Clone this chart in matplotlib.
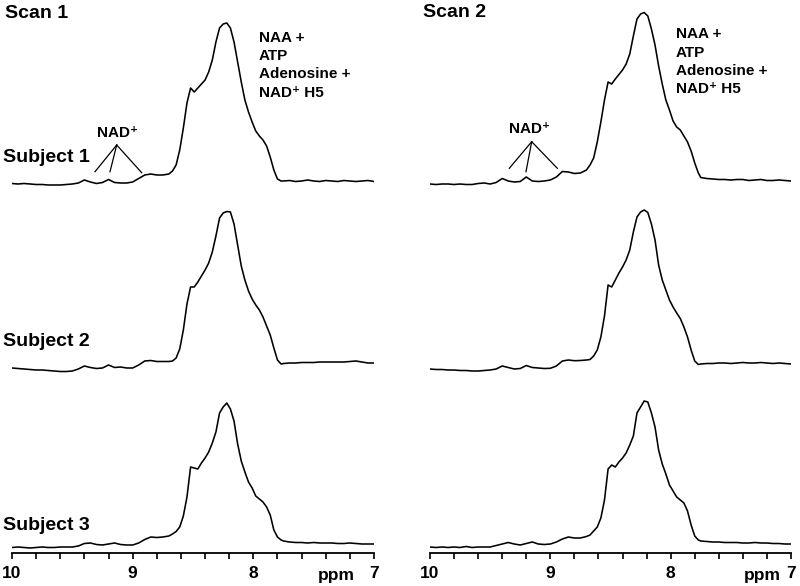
import matplotlib
matplotlib.use("Agg")
import matplotlib.pyplot as plt
from matplotlib.lines import Line2D

plt.rcParams['font.family'] = ['Liberation Sans', 'DejaVu Sans']

# ---------------- data ----------------
PPM = [10.00, 9.95, 9.90, 9.85, 9.80, 9.75, 9.70, 9.65, 9.60, 9.55, 9.50, 9.45, 9.40,
       9.35, 9.30, 9.25, 9.20, 9.15, 9.10, 9.05, 9.00, 8.95, 8.90, 8.85, 8.80, 8.75, 8.70,
       8.67, 8.64, 8.61, 8.58, 8.55, 8.52, 8.49, 8.46, 8.43, 8.40, 8.37, 8.34, 8.31, 8.28,
       8.25, 8.22, 8.19, 8.16, 8.13, 8.10, 8.07, 8.04, 8.01, 7.98, 7.95, 7.92, 7.89, 7.86,
       7.83, 7.80, 7.77,
       7.75, 7.70, 7.65, 7.60, 7.55, 7.50, 7.45, 7.40, 7.35, 7.30, 7.25, 7.20, 7.15, 7.10,
       7.05, 7.00]

scan1_subject1 = [2.5, 2, 2.5, 2, 1.5, 1.5, 1, 1, 1, 1.5, 2, 3, 6, 4, 2.5, 3.5, 6.5, 3.5, 3, 3,
                  4, 7.5, 11, 12, 11, 11, 12,
                  15, 21, 36, 58, 83, 98, 94, 98, 102, 106, 114, 126, 144, 158, 162, 163, 158,
                  144, 124, 104, 86, 74, 64, 55, 50, 46, 40, 29, 16, 7, 5,
                  5, 5.5, 4.5, 5, 6, 5, 4.5, 5.5, 5, 4.5, 5.5, 5, 4.5, 5, 5.5, 4.5]
scan1_subject2 = [4, 3.5, 3, 2.5, 2, 2, 1.5, 1, 0.5, 0.5, 1, 3, 6, 4.5, 3.5, 4, 7, 4.5, 5, 4,
                  4, 7, 11, 11.5, 10.5, 10.5, 10.5,
                  11, 14, 23, 42, 68, 85, 85, 90, 96, 102, 109, 120, 136, 154, 159, 160.5, 160,
                  148, 127, 106, 92, 81, 73, 67, 62, 55, 46, 37, 24, 12, 8,
                  8.5, 9, 9, 9.5, 9.5, 9.5, 10, 10, 10, 10, 10, 10.5, 11, 10, 9, 9]
scan1_subject3 = [1.5, 2, 1.5, 1, 1.5, 2, 1.5, 1.5, 2, 2, 2, 3, 5.5, 6, 4.5, 4, 5, 6, 4.5, 4,
                  4, 6, 9.5, 12, 11.5, 12, 13,
                  15, 17.5, 22, 33, 52, 82, 81, 80, 86, 91, 97, 106, 117, 136, 142, 146, 140,
                  128, 105, 88, 77, 67, 61, 53, 50, 47, 42, 34, 19, 12, 9,
                  8, 7, 6.5, 6.5, 6, 6.5, 6, 6, 6, 5.5, 5.5, 6, 5.5, 5, 5, 5]
scan2_subject1 = [2, 1.5, 2, 2, 1.5, 2, 1.5, 1.5, 2.5, 3, 2, 3.5, 7.5, 5, 4, 4.5, 9, 5, 4.5, 5,
                  6, 9, 14.5, 14, 12.5, 13, 16,
                  21, 28, 44, 64, 86, 104, 102, 107, 111.5, 116, 122, 132, 150, 167, 172, 173.5,
                  170, 157, 141, 120, 102, 86, 76, 65, 59, 56, 50, 44, 35, 23, 13,
                  8.5, 7.5, 7, 6.5, 6.5, 6, 6.5, 6.5, 5.5, 6, 6.5, 5.5, 5.5, 6, 5.5, 5]
scan2_subject2 = [3, 2.5, 2.5, 2, 2, 1.5, 1.5, 1, 1, 1.5, 2, 3, 6, 4.5, 3, 3.5, 6.5, 4.5, 4, 3.5,
                  3.7, 6, 11, 12, 11.3, 11.5, 12,
                  12.5, 16, 22, 35, 56, 87, 85, 92, 99, 105, 112, 122, 140, 155, 160, 162, 159.5,
                  148, 132, 107, 92, 82, 72, 65, 59, 53.5, 45, 35, 22, 11, 7.5,
                  8, 8.5, 8.5, 9, 9, 8.5, 9, 9.5, 9, 9, 9.5, 9, 8.5, 9, 8.5, 8]
scan2_subject3 = [2, 1.5, 2, 1.5, 2, 1.5, 2.5, 1.5, 2, 2, 2, 3.5, 5, 6.5, 5, 4, 5.5, 7, 5, 4.5,
                  5, 7, 10, 12, 11, 11, 12.5,
                  14, 18, 22, 31, 49, 80, 84, 82, 87, 91, 96, 104, 113, 136, 142, 148, 147,
                  136, 122, 99, 85, 75, 64, 58, 52, 49, 46, 38, 24, 13, 9,
                  8, 7.5, 7, 7, 6.5, 6.5, 6.5, 6, 6, 6.5, 6, 6, 5.5, 5.5, 5, 5]

SCANS = ["Scan 1", "Scan 2"]
SUBJECTS = ["Subject 1", "Subject 2", "Subject 3"]
SPECTRA = [[scan1_subject1, scan1_subject2, scan1_subject3],
           [scan2_subject1, scan2_subject2, scan2_subject3]]
TICKS = [10.0, 9.8, 9.6, 9.4, 9.2, 9.0, 8.8, 8.6, 8.4, 8.2, 8.0, 7.8, 7.6, 7.4, 7.2, 7.0]
TICK_LABELS = {10.0: "10", 9.0: "9", 8.0: "8", 7.0: "7"}
PEAK_LABEL = ["NAA +", "ATP", "Adenosine +", "NAD\u207a H5"]
NAD_LABEL = "NAD\u207a"

# ---------------- layout ----------------
W, H = 800, 586
fig = plt.figure(figsize=(W / 100, H / 100), dpi=100)

def fx(px):
    return px / W

def fy(py):
    return 1 - py / H

AX_BOTTOM = 553
row_offsets = [367, 181, 4]
axes_x = [(12, 374), (430, 791)]
ppm_label_x = [7.31, 7.24]

for col in range(2):
    x0, x1 = axes_x[col]
    ax = fig.add_axes([fx(x0), fy(AX_BOTTOM), (x1 - x0) / W, AX_BOTTOM / H])
    ax.set_xlim(10, 7)
    ax.set_ylim(0, AX_BOTTOM)
    for r in range(3):
        ys = [v + row_offsets[r] for v in SPECTRA[col][r]]
        ax.plot(PPM, ys, color='black', lw=1.15, solid_joinstyle='round')
    for s in ['left', 'right', 'top']:
        ax.spines[s].set_visible(False)
    ax.spines['bottom'].set_linewidth(1.3)
    ax.set_yticks([])
    ax.set_xticks(TICKS)
    ax.set_xticklabels([TICK_LABELS.get(t, "") for t in TICKS],
                       fontsize=12.5, fontweight='bold')
    ax.tick_params(axis='x', direction='out', length=4, width=1.2, pad=5)
    ax.text(ppm_label_x[col], -27, "ppm", ha='center', va='baseline',
            fontsize=12.5, fontweight='bold', clip_on=False)

# scan titles
fig.text(fx(5), fy(18), SCANS[0], fontsize=14, fontweight='bold', va='baseline')
fig.text(fx(423), fy(17), SCANS[1], fontsize=14, fontweight='bold', va='baseline')

# subject labels
for name, by in zip(SUBJECTS, [162.5, 346.5, 530]):
    fig.text(fx(3), fy(by), name, fontsize=14, fontweight='bold', va='baseline')

# peak labels
for col, (lx, bases) in enumerate([(259, [42, 60, 78, 97]), (676, [38, 57, 75, 93])]):
    for t, by in zip(PEAK_LABEL, bases):
        fig.text(fx(lx), fy(by), t, fontsize=11, fontweight='bold', va='baseline')

# NAD+ annotations
nad = [((117, 137), (116.7, 145), [(95, 171.7), (110, 171.7), (141.7, 172.7)]),
       ((530, 133), (531.7, 141.7), [(509.3, 168.3), (526, 171.7), (557.3, 168.3)])]
for (tx, ty), (ox, oy), ends in nad:
    fig.text(fx(tx), fy(ty), NAD_LABEL, fontsize=11, fontweight='bold',
             ha='center', va='baseline')
    for ex, ey in ends:
        fig.add_artist(Line2D([fx(ox), fx(ex)], [fy(oy), fy(ey)],
                              color='black', lw=0.9, transform=fig.transFigure))

fig.savefig("out.png", dpi=100)
